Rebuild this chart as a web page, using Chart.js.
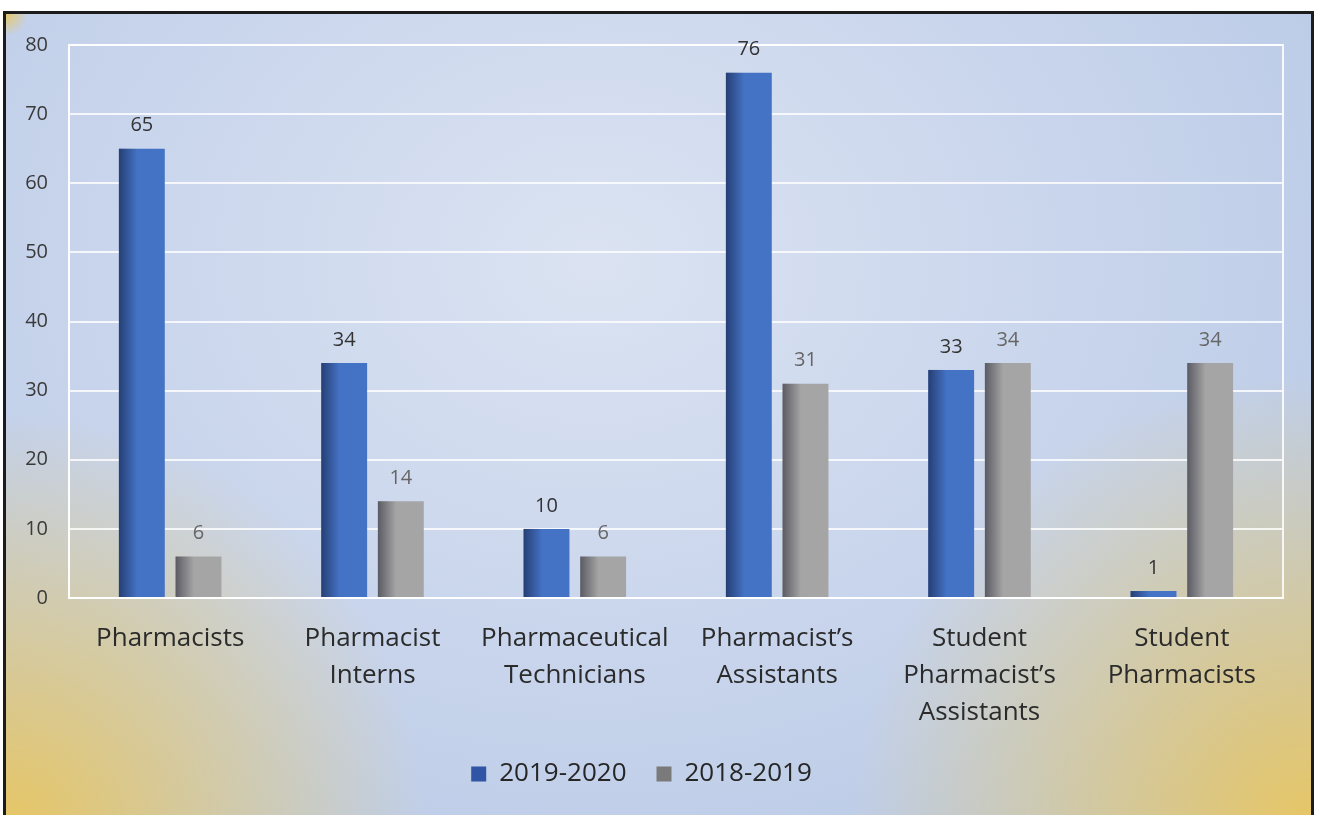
<!DOCTYPE html>
<html>
<head>
<meta charset="utf-8">
<script src="https://cdn.jsdelivr.net/npm/chart.js@4.4.0/dist/chart.umd.min.js"></script>
<style>
  body { margin: 0; background: #fff; }
  #frame {
    position: absolute; left: 3px; top: 11px; width: 1305px; height: 820px;
    border: 3px solid #1c1c1c;
    background:
      radial-gradient(circle at 0% 100%, rgba(234,198,92,0.95) 0px, rgba(234,198,92,0) 420px),
      radial-gradient(circle at 100% 100%, rgba(234,198,92,0.95) 0px, rgba(234,198,92,0) 460px),
      radial-gradient(circle at 0% 0%, rgba(234,198,92,0.9) 0px, rgba(234,198,92,0) 22px),
      radial-gradient(ellipse at 45% 30%, #dbe3f2 0%, #c6d3eb 55%, #b3c5e4 100%);
  }
  #wrap { position: absolute; left: 0; top: 0; width: 1317px; height: 815px; }
</style>
</head>
<body>
<div id="frame"></div>
<div id="wrap"><canvas id="chart"></canvas></div>
<script>
// chart data
const categories = [
  'Pharmacists',
  ['Pharmacist', 'Interns'],
  ['Pharmaceutical', 'Technicians'],
  ['Pharmacist\u2019s', 'Assistants'],
  ['Student', 'Pharmacist\u2019s', 'Assistants'],
  ['Student', 'Pharmacists']
];
const series2019 = [65, 34, 10, 76, 33, 1];
const series2018 = [6, 14, 6, 31, 34, 34];
const yTicks = [0, 10, 20, 30, 40, 50, 60, 70, 80];

const FONT = "'Open Sans', sans-serif";

// white frame round the plot area
const plotFrame = {
  id: 'plotFrame',
  beforeDatasetsDraw(chart) {
    const a = chart.chartArea, c = chart.ctx;
    c.save();
    c.strokeStyle = 'rgba(255,255,255,0.85)';
    c.lineWidth = 2;
    c.strokeRect(a.left, a.top, a.right - a.left, a.bottom - a.top);
    c.restore();
  }
};

// dark shading on left side of each bar, then value labels
const barExtras = {
  id: 'barExtras',
  afterDatasetsDraw(chart) {
    const c = chart.ctx;
    chart.data.datasets.forEach((ds, i) => {
      const meta = chart.getDatasetMeta(i);
      meta.data.forEach((bar, j) => {
        const p = bar.getProps(['x', 'y', 'base', 'width'], true);
        const l = p.x - p.width / 2;
        const g = c.createLinearGradient(l, 0, l + p.width, 0);
        g.addColorStop(0, 'rgba(0,0,20,0.45)');
        g.addColorStop(0.4, 'rgba(0,0,20,0)');
        g.addColorStop(1, 'rgba(0,0,20,0)');
        c.save();
        c.fillStyle = g;
        c.fillRect(l, p.y, p.width, p.base - p.y);
        c.restore();

        c.save();
        c.font = '20px ' + FONT;
        c.fillStyle = i === 0 ? '#333' : '#666';
        c.textAlign = 'center';
        c.textBaseline = 'bottom';
        c.fillText(ds.data[j], p.x, p.y - 13);
        c.restore();
      });
    });
  }
};

new Chart(document.getElementById('chart'), {
  type: 'bar',
  data: {
    labels: categories,
    datasets: [
      { label: '2019-2020', data: series2019, backgroundColor: '#4472c4' },
      { label: '2018-2019', data: series2018, backgroundColor: '#a5a5a5' }
    ]
  },
  options: {
    responsive: true,
    maintainAspectRatio: false,
    animation: false,
    categoryPercentage: 0.56,
    barPercentage: 0.81,
    layout: { padding: { top: 45, right: 34, bottom: 18, left: 0 } },
    plugins: {
      legend: {
        position: 'bottom',
        labels: {
          font: { family: FONT, size: 26 },
          color: '#262626',
          boxWidth: 15,
          boxHeight: 15,
          padding: 30,
          generateLabels(chart) {
            const fills = ['#2f55a4', '#7a7a7a'];
            return chart.data.datasets.map((ds, i) => ({
              text: ds.label, fillStyle: fills[i], strokeStyle: fills[i],
              lineWidth: 0, datasetIndex: i, fontColor: '#262626'
            }));
          }
        }
      },
      tooltip: { enabled: false }
    },
    scales: {
      x: {
        grid: { display: false },
        border: { color: 'rgba(255,255,255,0.85)', width: 2 },
        ticks: {
          font: { family: FONT, size: 26, lineHeight: 1.42 },
          color: '#2b2b2b',
          padding: 14,
          maxRotation: 0,
          autoSkip: false
        },
        afterFit(s) { s.height = 133; }
      },
      y: {
        min: 0,
        max: 80,
        afterBuildTicks(s) { s.ticks = yTicks.map(v => ({ value: v })); },
        grid: { color: 'rgba(255,255,255,0.8)', lineWidth: 2, drawTicks: false },
        border: { color: 'rgba(255,255,255,0.85)', width: 2 },
        ticks: {
          font: { family: FONT, size: 20 },
          color: '#3a3a3a',
          padding: 21
        },
        afterFit(s) { s.width = 69; }
      }
    }
  },
  plugins: [plotFrame, barExtras]
});
</script>
</body>
</html>
